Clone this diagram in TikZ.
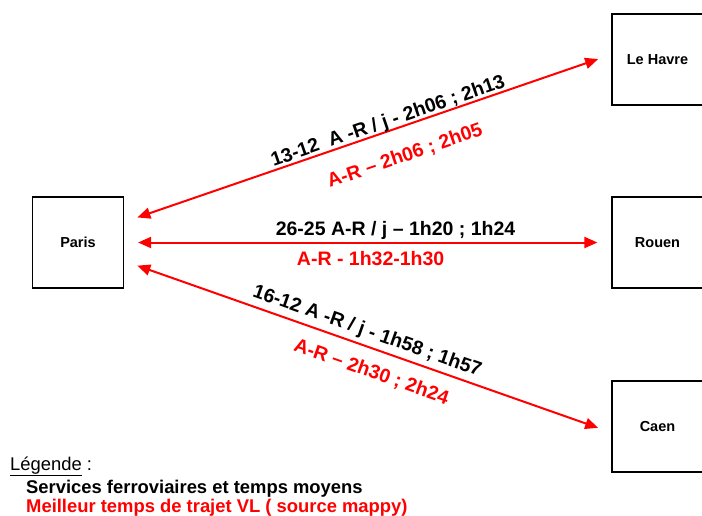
\documentclass[tikz,border=0pt]{standalone}
\usepackage{fontspec}
\setmainfont{Liberation Sans}
\usetikzlibrary{arrows.meta}
\definecolor{arrred}{RGB}{255,0,0}
\tikzset{
  city/.style={draw=black, line width=1.2pt, minimum width=91pt, minimum height=91pt, inner sep=0pt, font=\fontsize{14.5}{16}\selectfont\bfseries},
  link/.style={draw=arrred, line width=2pt, {Triangle[length=13pt,width=11pt]}-{Triangle[length=13pt,width=11pt]}, shorten <=14pt, shorten >=14pt},
  blk/.style={text=black, font=\fontsize{19.5}{22}\selectfont\bfseries, inner sep=0pt, anchor=base},
  red/.style={text=arrred, font=\fontsize{19.5}{22}\selectfont\bfseries, inner sep=0pt, anchor=base},
  leg/.style={anchor=base west, inner sep=0pt, font=\fontsize{18.4}{20}\selectfont}
}
\begin{document}
\begin{tikzpicture}[x=1pt,y=-1pt]
\useasboundingbox (0,0) rectangle (702,515);
\node[city] (paris) at (78,242.5) {Paris};
\node[city] (havre) at (657.5,59.5) {Le Havre};
\node[city] (rouen) at (657.5,242.5) {Rouen};
\node[city] (caen) at (657.5,426.5) {Caen};

\path[link] ([yshift=20.5pt]paris.east) -- ([yshift=5pt]havre.west)
  node[blk, sloped, pos=0.548, yshift=3.8pt] (l1) {13-12\ \ A -R / j - 2h06 ; 2h13}
  node[red, sloped, pos=0.557, yshift=-34.5pt] (r1) {A-R – 2h06 ; 2h05};
\path[link] (paris.east) -- (rouen.west)
  node[blk, pos=0.557, yshift=7.5pt] (l2) {26-25 A-R / j – 1h20 ; 1h24}
  node[red, pos=0.506, yshift=-22.5pt] (r2) {A-R - 1h32-1h30};
\path[link] ([yshift=-18.5pt]paris.east) -- ([yshift=-6pt]caen.west)
  node[blk, sloped, pos=0.489, yshift=9pt] (l3) {16-12 A -R / j - 1h58 ; 1h57}
  node[red, sloped, pos=0.523, yshift=-28.6pt] (r3) {A-R – 2h30 ; 2h24};

\node[leg] (lg0) at (10,470) {\underline{Légende} :};
\node[leg, font=\fontsize{18.4}{20}\selectfont\bfseries] (lg1) at (26,493) {Services ferroviaires et temps moyens};
\node[leg, font=\fontsize{18.4}{20}\selectfont\bfseries, text=arrred] (lg2) at (26,512) {Meilleur temps de trajet VL ( source mappy)};
\end{tikzpicture}
\end{document}
